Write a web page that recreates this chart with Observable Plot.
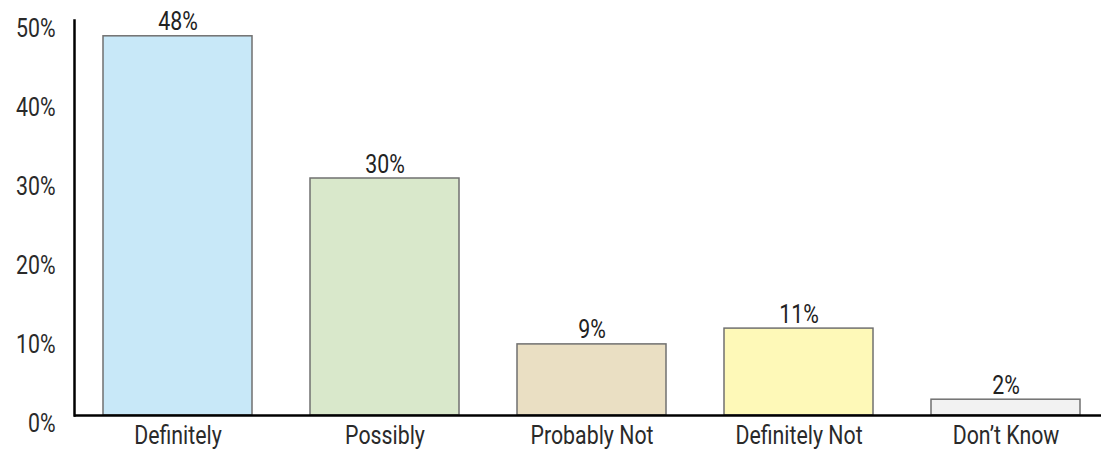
<!DOCTYPE html>
<html>
<head>
<meta charset="utf-8">
<script src="https://cdn.jsdelivr.net/npm/d3@7"></script>
<script src="https://cdn.jsdelivr.net/npm/@observablehq/plot@0.6"></script>
<style>
  html, body { margin: 0; padding: 0; background: #fff; }
  #chart svg { display: block; }
</style>
</head>
<body>
<div id="chart"></div>
<script>
// Survey answers and their shares (percent)
const answers = ["Definitely", "Possibly", "Probably Not", "Definitely Not", "Don’t Know"];
const shares = [48, 30, 9, 11, 2];
const fills = ["#c8e8f8", "#d9e8cb", "#eadfc3", "#fef9b8", "#f2f2f2"];
const yTicks = [0, 10, 20, 30, 40, 50];

const rows = answers.map((answer, i) => ({answer, share: shares[i], fill: fills[i]}));

const font = "Roboto, 'DejaVu Sans Condensed', sans-serif";

const chart = Plot.plot({
  width: 1101,
  height: 450,
  marginLeft: 74,
  marginRight: 0,
  marginTop: 20,
  marginBottom: 35,
  style: {fontFamily: font, fontSize: "26px", fontWeight: 400, color: "#333", background: "#fff"},
  x: {domain: answers, range: [74, 1109], paddingInner: 0.28, paddingOuter: 0.14},
  y: {domain: [0, 50], range: [415, 20]},
  marks: [
    Plot.barY(rows, {x: "answer", y: "share", fill: "fill", stroke: "#707070", strokeWidth: 1.5}),
    Plot.text(rows, {x: "answer", y: "share", text: d => `${d.share}%`, lineAnchor: "bottom", dy: -6, fill: "#222", fontSize: 26}),
    Plot.axisY({ticks: yTicks, tickSize: 0, tickPadding: 19, dy: 8, tickFormat: d => `${d}%`, label: null, fill: "#2a2a2a", fontSize: 26}),
    Plot.axisX({tickSize: 0, tickPadding: 10, label: null, fill: "#2a2a2a", fontSize: 26}),
    Plot.ruleY([0], {stroke: "#000", strokeWidth: 2.5}),
    Plot.frame({anchor: "left", stroke: "#000", strokeWidth: 2.5})
  ]
});

// Narrow the glyphs horizontally around each label's anchor point
d3.select(chart).selectAll("text").each(function() {
  const t = d3.select(this);
  const x = parseFloat(t.attr("x")) || 0;
  const tr = t.attr("transform") || "";
  t.attr("x", null).attr("transform", `${tr} translate(${x},0) scale(0.82,1)`);
});

document.getElementById("chart").append(chart);
</script>
</body>
</html>
